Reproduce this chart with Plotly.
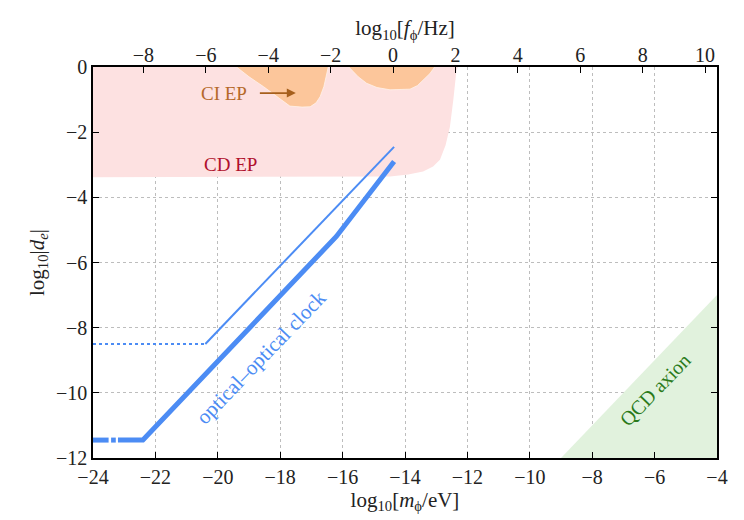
import plotly.graph_objects as go

# ---- data ----
# CD EP exclusion (pink) boundary
cd_x = [-24, -15.0, -14.48, -13.9, -13.42, -13.1, -12.88, -12.7, -12.56, -12.45, -12.35, -12.3, -24]
cd_y = [-3.38, -3.38, -3.36, -3.3, -3.21, -3.05, -2.85, -2.4, -1.83, -1.0, -0.1, 0, 0]
# CI EP exclusion (orange) blobs
ci1_x = [-19.4, -19.0, -18.54, -17.9, -17.69, -17.3, -17.04, -16.85, -16.72, -16.6, -16.56, -16.46]
ci1_y = [0, -0.3, -0.6, -1.06, -1.2, -1.23, -1.22, -1.1, -0.91, -0.6, -0.4, 0]
ci2_x = [-15.8, -15.5, -15.23, -14.9, -14.48, -13.84, -13.6, -13.41, -13.2, -13.05]
ci2_y = [0, -0.3, -0.5, -0.63, -0.7, -0.68, -0.57, -0.4, -0.2, 0]
# QCD axion (green)
qcd_x = [-9.0, -4.0, -4.0]
qcd_y = [-12.0, -7.0, -12.0]
# optical-optical clock (thin)
thin_dot_x = [-24.0, -20.4]
thin_dot_y = [-8.5, -8.5]
thin_x = [-20.4, -14.35]
thin_y = [-8.5, -2.45]
# optical-optical clock (thick), drawn in pieces with small gaps
thick_a_x = [-24.0, -23.5]
thick_a_y = [-11.45, -11.45]
thick_b_x = [-23.42, -23.27]
thick_b_y = [-11.45, -11.45]
thick_c_x = [-23.2, -22.4, -16.2, -14.35]
thick_c_y = [-11.45, -11.45, -5.2, -2.9]

x_ticks = [-24, -22, -20, -18, -16, -14, -12, -10, -8, -6, -4]
y_ticks = [0, -2, -4, -6, -8, -10, -12]
f_ticks = [-8, -6, -4, -2, 0, 2, 4, 6, 8, 10]
f_offset = 14.383  # log10(1/h) with h in eV*s

BLUE = "#4c8cf4"
SERIF = "'Liberation Serif', 'DejaVu Serif', serif"

fig = go.Figure()
fig.add_trace(go.Scatter(x=cd_x, y=cd_y, fill="toself", fillcolor="#fde1e1",
                         line=dict(width=0), mode="lines", hoverinfo="skip"))
fig.add_trace(go.Scatter(x=ci1_x, y=ci1_y, fill="toself", fillcolor="#fcc69b",
                         line=dict(width=0.8, color="#fff3ea"), mode="lines", hoverinfo="skip"))
fig.add_trace(go.Scatter(x=ci2_x, y=ci2_y, fill="toself", fillcolor="#fcc69b",
                         line=dict(width=0.8, color="#fff3ea"), mode="lines", hoverinfo="skip"))
fig.add_trace(go.Scatter(x=qcd_x, y=qcd_y, fill="toself", fillcolor="#e1f2dd",
                         line=dict(width=0), mode="lines", hoverinfo="skip"))
fig.add_trace(go.Scatter(x=thin_dot_x, y=thin_dot_y, mode="lines",
                         line=dict(color=BLUE, width=2, dash="dot")))
fig.add_trace(go.Scatter(x=thin_x, y=thin_y, mode="lines",
                         line=dict(color=BLUE, width=2)))
for xs, ys in [(thick_a_x, thick_a_y), (thick_b_x, thick_b_y), (thick_c_x, thick_c_y)]:
    fig.add_trace(go.Scatter(x=xs, y=ys, mode="lines",
                             line=dict(color=BLUE, width=5)))
# invisible trace to activate the top axis
fig.add_trace(go.Scatter(x=[f_ticks[0]], y=[0], xaxis="x2", mode="markers",
                         marker=dict(opacity=0), hoverinfo="skip"))

tickfont = dict(family=SERIF, size=20, color="#222")
titlefont = dict(family=SERIF, size=21, color="#222")
fig.update_layout(
    width=744, height=520,
    margin=dict(l=93, r=27, t=67, b=62),
    paper_bgcolor="white", plot_bgcolor="white",
    showlegend=False,
    font=dict(family=SERIF),
    xaxis=dict(range=[-24, -4], tickvals=x_ticks, ticktext=["\u2212%d" % abs(v) for v in x_ticks],
               ticks="inside", ticklen=6, tickcolor="black", tickfont=tickfont,
               showgrid=True, gridcolor="#bdbdbd", griddash="dot", gridwidth=1,
               showline=True, linecolor="black", linewidth=1.5, mirror=True,
               zeroline=False, layer="above traces",
               title=dict(text="log<sub>10</sub>[<i>m</i><sub>\u03d5</sub>/eV]",
                          font=titlefont, standoff=4)),
    xaxis2=dict(overlaying="x", side="top", range=[-24 + f_offset, -4 + f_offset],
                tickvals=f_ticks,
                ticktext=[("\u2212%d" % abs(v)) if v < 0 else str(v) for v in f_ticks],
                ticks="inside", ticklen=6, tickcolor="black", tickfont=tickfont,
                showgrid=False, zeroline=False, showline=False,
                title=dict(text="log<sub>10</sub>[<i>f</i><sub>\u03d5</sub>/Hz]",
                           font=titlefont, standoff=2)),
    yaxis=dict(range=[-12, 0], tickvals=y_ticks,
               ticktext=[("\u2212%d" % abs(v)) if v < 0 else "0" for v in y_ticks],
               ticks="inside", ticklen=6, tickcolor="black", tickfont=tickfont,
               showgrid=True, gridcolor="#bdbdbd", griddash="dot", gridwidth=1,
               showline=True, linecolor="black", linewidth=1.5, mirror="ticks",
               zeroline=False, layer="above traces",
               title=dict(text="log<sub>10</sub>|<i>d</i><sub><i>e</i></sub>|",
                          font=titlefont, standoff=6)),
)

fig.add_annotation(x=-19.8, y=-0.8, text="CI EP", showarrow=False,
                   font=dict(family=SERIF, size=19, color="#b5692a"))
fig.add_annotation(x=-17.5, y=-0.8, ax=-18.7, ay=-0.8, axref="x", ayref="y",
                   text="", showarrow=True, arrowhead=2, arrowsize=1, arrowwidth=1.8,
                   arrowcolor="#a65f1c")
fig.add_annotation(x=-19.6, y=-3.0, text="CD EP", showarrow=False,
                   font=dict(family=SERIF, size=19, color="#b0102c"))
fig.add_annotation(x=-18.6, y=-8.9, text="optical\u2013optical clock", showarrow=False,
                   textangle=-46, font=dict(family=SERIF, size=21, color=BLUE))
fig.add_annotation(x=-6.0, y=-9.9, text="QCD axion", showarrow=False,
                   textangle=-46, font=dict(family=SERIF, size=20, color="#2a7a1a"))

fig.write_html("out.html")
